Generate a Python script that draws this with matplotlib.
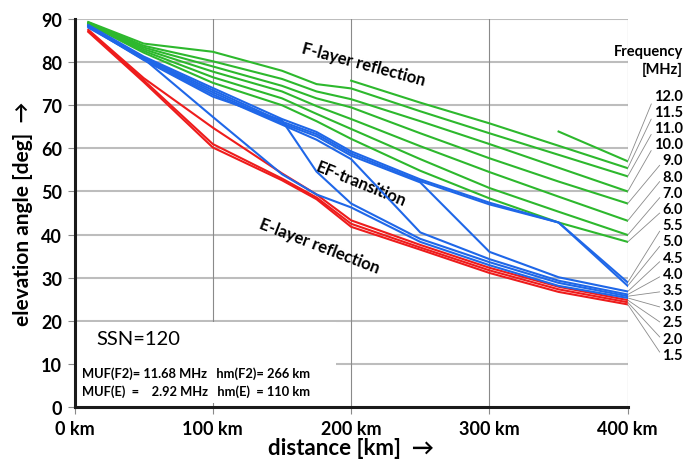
import numpy as np
import matplotlib
matplotlib.use("Agg")
import matplotlib.pyplot as plt
from matplotlib.patches import Rectangle

plt.rcParams['font.family'] = ['Lato', 'DejaVu Sans']

# distances of the computed points [km]
dist = [10, 50, 100, 150, 175, 200, 250, 300, 350, 400]
nan = np.nan

# E-layer reflection (red)
e_freqs = ["1.5", "2.0", "2.5"]
e_angles = [
    [87.0, 75.4, 60.2, 52.6, 48.2, 41.8, 36.5, 31.1, 26.7, 23.8],
    [87.2, 75.8, 61.0, 53.0, 48.6, 42.5, 37.0, 31.7, 27.3, 24.3],
    [87.5, 76.3, 64.8, 54.2, 49.3, 43.3, 37.6, 32.3, 27.9, 24.8],
]

# EF-transition (blue)
ef_freqs = ["3.0", "3.5", "4.0", "4.5", "5.0", "5.5"]
ef_angles = [
    [88.0, 80.8, 67.3, 54.0, 49.3, 46.3, 38.3, 32.9, 28.1, 25.3],
    [88.2, 80.5, 72.0, 66.5, 54.6, 47.2, 39.0, 33.6, 28.8, 25.7],
    [88.3, 80.6, 72.5, 65.5, 62.0, 57.5, 40.5, 34.3, 29.3, 26.1],
    [88.4, 80.8, 73.0, 65.8, 62.8, 58.3, 52.1, 36.0, 30.1, 26.8],
    [88.5, 81.0, 73.5, 66.2, 63.3, 58.8, 52.4, 47.0, 42.8, 28.1],
    [88.6, 81.3, 74.0, 66.8, 63.8, 59.3, 52.8, 47.4, 42.8, 28.9],
]

# F-layer reflection (green)
f_freqs = ["6.0", "7.0", "8.0", "9.0", "10.0", "11.0", "11.5", "12.0"]
f_angles = [
    [88.8, 82.2, 75.2, 70.0, 66.3, 62.2, 54.8, 48.4, 42.8, 38.3],
    [88.9, 82.6, 76.5, 71.6, 68.0, 64.5, 57.5, 50.8, 45.3, 39.9],
    [89.0, 83.0, 77.8, 73.2, 69.8, 66.8, 60.5, 54.5, 48.8, 43.2],
    [89.1, 83.4, 79.0, 74.5, 71.6, 69.5, 63.5, 57.7, 52.3, 47.2],
    [89.2, 83.8, 80.2, 76.1, 73.2, 71.4, 66.3, 61.0, 55.5, 50.0],
    [89.3, 84.3, 82.4, 78.0, 74.9, 73.9, 68.6, 63.5, 58.5, 53.5],
    [nan, nan, nan, nan, nan, 75.7, 70.6, 65.8, 60.6, 55.4],
    [nan, nan, nan, nan, nan, nan, nan, nan, 63.9, 57.0],
]

green = "#2db82d"
blue = "#1f67e8"
red = "#ee1c1c"

fig = plt.figure(figsize=(6.95, 4.6), dpi=100)
ax = fig.add_axes([0.1072, 0.1130, 0.7960, 0.8435])

ax.set_xlim(0, 400)
ax.set_ylim(0, 90)

# grid
for v in range(10, 91, 10):
    ax.axhline(v, color="#bdbdbd", lw=1.5, zorder=0)
for v in range(100, 401, 100):
    ax.axvline(v, color="#8a8a8a", lw=0.8, zorder=0)

# white box behind the info text
ax.add_patch(Rectangle((1, 1), 188, 18.7, facecolor="white", edgecolor="none", zorder=1))

for ys in f_angles:
    ax.plot(dist, ys, color=green, lw=1.5, zorder=2)
for ys in e_angles:
    ax.plot(dist, ys, color=red, lw=1.5, zorder=3)
for ys in ef_angles:
    ax.plot(dist, ys, color=blue, lw=1.5, zorder=4)

ax.set_yticks(range(0, 91, 10))
ax.set_xticks(range(0, 401, 100))
ax.set_xticklabels([f"{v} km" for v in range(0, 401, 100)])
ax.tick_params(axis="both", labelsize=13, length=5, color="#8a8a8a", width=0.8)
ax.tick_params(axis="y", pad=4)
ax.tick_params(axis="x", pad=4)
for lab in ax.get_xticklabels() + ax.get_yticklabels():
    lab.set_fontweight("bold")

for side in ["top", "right"]:
    ax.spines[side].set_visible(False)
for side in ["left", "bottom"]:
    ax.spines[side].set_linewidth(2.2)
    ax.spines[side].set_color("#1a1a1a")

ax.set_xlabel("distance [km]  \u2192", fontsize=16, fontweight="bold", labelpad=0)
ax.set_ylabel("elevation angle [deg]  \u2192", fontsize=15, fontweight="bold", labelpad=6)

# region annotations
ax.text(209, 79.6, "F-layer reflection", rotation=-15, fontsize=12, fontweight="bold",
        ha="center", va="center", rotation_mode="anchor")
ax.text(207, 51.8, "EF-transition", rotation=-22, fontsize=12, fontweight="bold",
        ha="center", va="center", rotation_mode="anchor")
ax.text(177, 37.6, "E-layer reflection", rotation=-21, fontsize=12, fontweight="bold",
        ha="center", va="center", rotation_mode="anchor")

ax.text(16, 15.8, "SSN=120", fontsize=14.5, ha="left", va="center", zorder=5)
ax.text(5.5, 7.9, "MUF(F2)= 11.68 MHz   hm(F2)= 266 km", fontsize=9.3, fontweight="bold",
        ha="left", va="center", zorder=5)
ax.text(5.5, 3.7, "MUF(E)  =    2.92 MHz   hm(E)  = 110 km", fontsize=9.3, fontweight="bold",
        ha="left", va="center", zorder=5)

# frequency labels on the right with leader lines
fig.text(683 / 695, 1 - 52 / 460, "Frequency", fontsize=10.5, fontweight="bold", ha="right", va="center")
fig.text(683 / 695, 1 - 70 / 460, "[MHz]", fontsize=10.5, fontweight="bold", ha="right", va="center")

labels = f_freqs[::-1] + ef_freqs[::-1] + e_freqs[::-1]
ends = [s[-1] for s in f_angles[::-1]] + [s[-1] for s in ef_angles[::-1]] + [s[-1] for s in e_angles[::-1]]
for i, (lab, end) in enumerate(zip(labels, ends)):
    ypix = 460 - (96.7 + i * 16.2)
    ax.annotate(lab, xy=(400, end), xycoords="data", xytext=(683, ypix), textcoords="figure pixels",
                ha="right", va="center", fontsize=10.5, fontweight="bold", annotation_clip=False,
                arrowprops=dict(arrowstyle="-", color="#8a8a8a", lw=0.6, shrinkA=0, shrinkB=0,
                                relpos=(0, 0.4)))

fig.savefig("out.png", dpi=100)
